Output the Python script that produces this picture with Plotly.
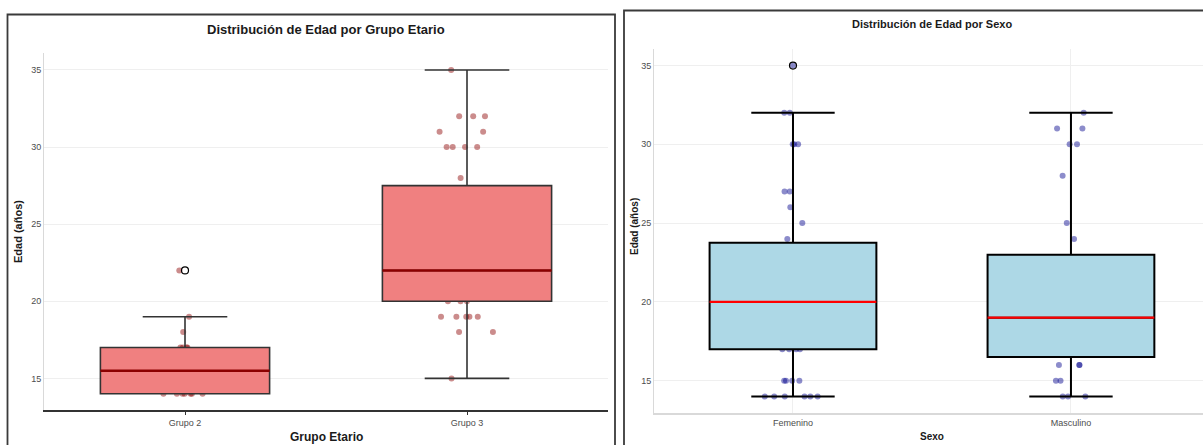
import plotly.graph_objects as go

# ---------------- data ----------------
grupos = ["Grupo 2", "Grupo 3"]
grupo_q1 = [14, 20]
grupo_median = [15.5, 22]
grupo_q3 = [17, 27.5]
grupo_low = [14, 15]
grupo_high = [19, 35]
grupo2_points = [14, 14, 14, 14, 14, 14, 14, 17, 17, 17, 17, 18, 19, 22]
grupo3_points = [35, 32, 32, 32, 31, 31, 30, 30, 30, 30, 28,
                 20, 20, 20, 19, 19, 19, 19, 19, 18, 18, 15]
grupo_out_x = ["Grupo 2"]
grupo_out_y = [22]

sexos = ["Femenino", "Masculino"]
sexo_q1 = [17, 16.5]
sexo_median = [20, 19]
sexo_q3 = [23.75, 23]
sexo_low = [14, 14]
sexo_high = [32, 32]
fem_points = [14, 14, 14, 14, 14, 14, 15, 15, 15, 15, 17, 17, 17, 17,
              24, 25, 26, 27, 27, 30, 30, 30, 32, 32, 35]
masc_points = [32, 31, 31, 30, 30, 28, 25, 24, 16, 16, 16, 15, 15, 14, 14, 14]
sexo_out_x = ["Femenino"]
sexo_out_y = [35]

y_ticks = [15, 20, 25, 30, 35]

W, H = 1203, 445
def px(x):
    return x / W
def py(y):
    return 1 - y / H

fig = go.Figure()

TICKFONT = dict(family="Liberation Sans Narrow, Liberation Sans, Arial", size=9, color="#4d4d4d")

# ---------- left panel ----------
fig.add_trace(go.Box(
    x=["Grupo 2"] * len(grupo2_points) + ["Grupo 3"] * len(grupo3_points),
    y=grupo2_points + grupo3_points,
    boxpoints="all", jitter=0.4, pointpos=0, width=0.6,
    fillcolor="rgba(0,0,0,0)", line=dict(width=0, color="rgba(0,0,0,0)"),
    marker=dict(color="rgba(139,0,0,0.45)", size=6, line=dict(width=0)),
    xaxis="x", yaxis="y", showlegend=False, hoverinfo="y"))
fig.add_trace(go.Box(
    x=grupos, q1=grupo_q1, median=grupo_median, q3=grupo_q3,
    lowerfence=grupo_low, upperfence=grupo_high,
    width=0.6, whiskerwidth=0.5, boxpoints=False,
    fillcolor="#F08080", line=dict(color="#333333", width=1.6),
    xaxis="x", yaxis="y", showlegend=False))
fig.add_trace(go.Box(
    x=grupos, q1=grupo_median, median=grupo_median, q3=grupo_median,
    lowerfence=grupo_median, upperfence=grupo_median,
    width=0.6, whiskerwidth=0, boxpoints=False,
    fillcolor="rgba(0,0,0,0)", line=dict(color="#8B0000", width=2.5),
    xaxis="x", yaxis="y", showlegend=False, hoverinfo="skip"))
fig.add_trace(go.Scatter(
    x=grupo_out_x, y=grupo_out_y, mode="markers",
    marker=dict(symbol="circle-open", color="black", size=7, line=dict(width=1.2)),
    xaxis="x", yaxis="y", showlegend=False))

# ---------- right panel ----------
fig.add_trace(go.Box(
    x=["Femenino"] * len(fem_points) + ["Masculino"] * len(masc_points),
    y=fem_points + masc_points,
    boxpoints="all", jitter=0.4, pointpos=0, width=0.6,
    fillcolor="rgba(0,0,0,0)", line=dict(width=0, color="rgba(0,0,0,0)"),
    marker=dict(color="rgba(0,0,139,0.45)", size=6, line=dict(width=0)),
    xaxis="x2", yaxis="y2", showlegend=False, hoverinfo="y"))
fig.add_trace(go.Box(
    x=sexos, q1=sexo_q1, median=sexo_median, q3=sexo_q3,
    lowerfence=sexo_low, upperfence=sexo_high,
    width=0.6, whiskerwidth=0.5, boxpoints=False,
    fillcolor="#ADD8E6", line=dict(color="black", width=2),
    xaxis="x2", yaxis="y2", showlegend=False))
fig.add_trace(go.Box(
    x=sexos, q1=sexo_median, median=sexo_median, q3=sexo_median,
    lowerfence=sexo_median, upperfence=sexo_median,
    width=0.6, whiskerwidth=0, boxpoints=False,
    fillcolor="rgba(0,0,0,0)", line=dict(color="red", width=2.2),
    xaxis="x2", yaxis="y2", showlegend=False, hoverinfo="skip"))
fig.add_trace(go.Scatter(
    x=sexo_out_x, y=sexo_out_y, mode="markers",
    marker=dict(symbol="circle-open", color="black", size=7, line=dict(width=1.2)),
    xaxis="x2", yaxis="y2", showlegend=False))

fig.update_layout(
    width=W, height=H,
    margin=dict(l=0, r=0, t=0, b=0, autoexpand=False),
    paper_bgcolor="white", plot_bgcolor="white",
    boxmode="overlay", template="none",
    xaxis=dict(domain=[px(44), px(608)], range=[-0.5, 1.5], type="category",
               categoryorder="array", categoryarray=grupos,
               showline=True, linecolor="#333333", linewidth=1.5,
               ticks="outside", ticklen=3, tickcolor="#333333",
               showgrid=False, zeroline=False, tickfont=TICKFONT, anchor="y"),
    yaxis=dict(domain=[py(410), py(53)], range=[12.95, 36.1], tickvals=y_ticks,
               showline=True, linecolor="#d9d9d9", linewidth=1,
               showgrid=True, gridcolor="#efefef", gridwidth=1,
               ticks="", zeroline=False, tickfont=TICKFONT, anchor="x"),
    xaxis2=dict(domain=[px(654), 1], range=[-0.5, 1.475], type="category",
                categoryorder="array", categoryarray=sexos,
                showline=True, linecolor="#d9d9d9", linewidth=1.5,
                showgrid=True, gridcolor="#efefef", gridwidth=1,
                ticks="", zeroline=False, tickfont=TICKFONT, anchor="y2"),
    yaxis2=dict(domain=[py(413), py(49)], range=[12.95, 36.05], tickvals=y_ticks,
                showline=True, linecolor="#d9d9d9", linewidth=1,
                showgrid=True, gridcolor="#efefef", gridwidth=1,
                ticks="", zeroline=False, tickfont=TICKFONT, anchor="x2"),
    shapes=[
        dict(type="rect", xref="paper", yref="paper",
             x0=px(7.5), x1=px(615), y0=-0.05, y1=py(14.5),
             line=dict(color="#3a3a3a", width=1.8), fillcolor="rgba(0,0,0,0)", layer="above"),
        dict(type="rect", xref="paper", yref="paper",
             x0=px(624), x1=1.05, y0=-0.05, y1=py(10.5),
             line=dict(color="#3a3a3a", width=1.8), fillcolor="rgba(0,0,0,0)", layer="above"),
    ],
)

TITLE_FONT = "Liberation Sans, Arial"
ann = [
    dict(text="<b>Distribución de Edad por Grupo Etario</b>", x=px(326), y=py(30),
         font=dict(family=TITLE_FONT, size=13, color="#1a1a1a")),
    dict(text="<b>Grupo Etario</b>", x=px(326), y=py(437),
         font=dict(family=TITLE_FONT, size=12, color="#1a1a1a")),
    dict(text="<b>Edad (años)</b>", x=px(18), y=py(232), textangle=-90,
         font=dict(family=TITLE_FONT, size=11, color="#1a1a1a")),
    dict(text="<b>Distribución de Edad por Sexo</b>", x=px(932), y=py(24),
         font=dict(family=TITLE_FONT, size=11, color="#1a1a1a")),
    dict(text="<b>Sexo</b>", x=px(932), y=py(436),
         font=dict(family=TITLE_FONT, size=10, color="#1a1a1a")),
    dict(text="<b>Edad (años)</b>", x=px(634), y=py(227), textangle=-90,
         font=dict(family=TITLE_FONT, size=10, color="#1a1a1a")),
]
for a in ann:
    a.update(xref="paper", yref="paper", showarrow=False, xanchor="center", yanchor="middle")
fig.update_layout(annotations=ann)

fig.write_html(
    "out.html",
    config={"displayModeBar": False},
    post_script="document.body.style.margin='0';document.body.style.overflow='hidden';",
)
